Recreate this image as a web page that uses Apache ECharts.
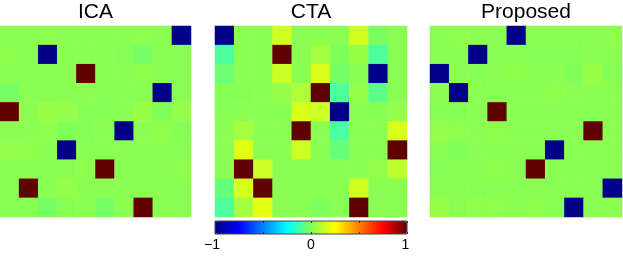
<!DOCTYPE html>
<html>
<head>
<meta charset="utf-8">
<script src="https://cdn.jsdelivr.net/npm/echarts@6/dist/echarts.min.js"></script>
<style>
html,body{margin:0;padding:0;background:#fff;}
#chart{width:623px;height:257px;}
</style>
</head>
<body>
<div id="chart"></div>
<script>
// ---- Data (rows top to bottom, columns left to right) ----
var panelTitles = ['ICA', 'CTA', 'Proposed'];
var rowCats = ['1','2','3','4','5','6','7','8','9','10'];
var colCats = ['1','2','3','4','5','6','7','8','9','10'];

var icaValues = [
  [0.02,0.02,0.03,0.02,0.02,0.02,0.02,0.03,0.02,-1],
  [0.03,0.02,-1,0.02,0.02,0.02,0.01,-0.02,0.02,0.02],
  [0.02,0.02,0.02,0.02,1,0.02,0.02,0.03,0.02,0.02],
  [-0.02,0.02,0.02,0.02,0.02,0.01,0.02,0.02,-1,0.02],
  [1,0.02,0.05,0.04,0.01,0.01,0.02,0.05,0.0,0.04],
  [0.02,0.02,0.03,0.0,0.01,0.02,-1,0.02,0.03,0.01],
  [0.04,0.03,0.02,-1,0.02,0.02,0.02,0.02,0.02,0.02],
  [0.02,0.02,0.02,0.02,0.03,1,0.02,0.02,0.02,0.03],
  [0.02,1,0.02,0.04,0.02,0.02,0.02,0.02,0.02,0.02],
  [0.01,0.01,-0.02,0.01,0.02,-0.02,0.02,1,0.02,0.02]
];

var ctaValues = [
  [-1,0.02,0.02,0.16,0.02,0.02,0.02,0.16,-0.01,0.02],
  [-0.1,0.02,0.02,1,0.02,0.07,0.0,0.05,-0.1,0.02],
  [-0.04,0.02,0.02,0.15,0.02,0.18,-0.02,0.02,-1,0.02],
  [0.01,0.01,0.02,0.04,0.09,1,-0.1,0.04,-0.07,0.02],
  [0.01,0.02,0.02,0.01,0.17,0.15,-1,0.02,0.01,0.04],
  [0.02,0.07,0.02,0.02,1,0.02,-0.11,0.02,0.02,0.17],
  [0.02,0.19,0.02,0.02,0.15,0.02,-0.05,0.02,0.02,1],
  [0.02,1,0.15,0.02,0.02,0.02,0.02,0.02,0.04,0.12],
  [-0.05,0.17,1,0.02,0.02,0.02,0.02,0.16,0.02,0.02],
  [-0.1,0.07,0.2,0.02,0.02,0.0,0.02,1,0.02,0.02]
];

var proposedValues = [
  [0.02,0.03,0.02,0.02,-1,0.02,0.02,0.02,0.02,0.03],
  [0.02,0.02,-1,0.02,0.02,0.01,0.01,0.01,0.02,0.02],
  [-1,0.02,0.01,0.02,0.03,0.02,0.02,0.0,0.05,0.01],
  [0.02,-1,0.02,0.02,0.02,0.02,0.03,0.02,0.02,0.02],
  [0.01,0.01,0.02,1,0.02,0.02,0.02,0.02,0.01,0.02],
  [0.04,0.03,0.02,0.03,0.02,0.02,0.02,0.02,1,0.02],
  [0.02,0.0,0.02,0.02,0.02,0.02,-1,0.02,0.02,0.02],
  [0.01,0.02,0.02,0.03,0.02,1,0.02,0.02,0.02,0.02],
  [0.02,0.02,0.01,0.02,0.01,0.02,0.02,0.02,0.02,-1],
  [0.05,0.02,0.03,0.03,0.02,0.03,0.01,-1,0.02,0.02]
];

var colorbarMin = -1;
var colorbarMax = 1;
var colorbarTickLabels = ['\u22121', '0', '1'];

// jet-like colormap stops
var jetColors = ['#000088','#0000ff','#0080ff','#00ffff','#80ff58','#ffff00','#ff8000','#ff0000','#600000'];

// ---- Build chart ----
function toHeat(m) {
  var out = [];
  for (var r = 0; r < m.length; r++) {
    for (var c = 0; c < m[r].length; c++) {
      out.push([c, r, m[r][c]]);
    }
  }
  return out;
}

var FONT = '"Liberation Sans", Arial, Helvetica, sans-serif';
var panels = [icaValues, ctaValues, proposedValues];
var gridBoxes = [
  {left: 0, top: 26, width: 191, height: 191},
  {left: 215, top: 26, width: 192, height: 191},
  {left: 430, top: 26, width: 192, height: 191}
];

var grids = [], xAxes = [], yAxes = [], series = [], titles = [];
for (var i = 0; i < 3; i++) {
  grids.push(Object.assign({containLabel: false, show: false}, gridBoxes[i]));
  xAxes.push({type: 'category', gridIndex: i, data: colCats, show: false});
  yAxes.push({type: 'category', gridIndex: i, data: rowCats, inverse: true, show: false});
  series.push({
    type: 'heatmap', xAxisIndex: i, yAxisIndex: i,
    data: toHeat(panels[i]),
    itemStyle: {borderWidth: 0},
    emphasis: {disabled: true},
    label: {show: false}
  });
  titles.push({
    text: panelTitles[i],
    left: gridBoxes[i].left + gridBoxes[i].width / 2,
    textAlign: 'center',
    top: 2,
    padding: 0,
    textStyle: {fontFamily: FONT, fontSize: 21, fontWeight: 'normal', color: '#000'}
  });
}

// colorbar frame grid (ticks + labels) over the visualMap bar
grids.push({left: 215, top: 221, width: 192, height: 13, show: true,
  backgroundColor: 'transparent', borderColor: '#444', borderWidth: 1, z: 10});
xAxes.push({
  type: 'value', gridIndex: 3, min: colorbarMin, max: colorbarMax, interval: 0.5,
  position: 'bottom', z: 10,
  axisLine: {show: false}, splitLine: {show: false},
  axisTick: {show: true, inside: true, length: 2, lineStyle: {color: '#333'}},
  axisLabel: {
    show: true, margin: 4, fontFamily: FONT, fontSize: 14, color: '#000',
    showMinLabel: true, showMaxLabel: true,
    formatter: function (v) {
      if (v === -1) return '{m|' + colorbarTickLabels[0] + '}';
      if (v === 0) return colorbarTickLabels[1];
      if (v === 1) return '{p|' + colorbarTickLabels[2] + '}';
      return '';
    },
    rich: {
      m: {fontFamily: FONT, fontSize: 14, color: '#000', padding: [0, 6, 0, 0]},
      p: {fontFamily: FONT, fontSize: 14, color: '#000', padding: [0, 3, 0, 0]}
    }
  }
});
xAxes.push({
  type: 'value', gridIndex: 3, min: colorbarMin, max: colorbarMax, interval: 0.5,
  position: 'top', z: 10,
  axisLine: {show: false}, splitLine: {show: false},
  axisTick: {show: true, inside: true, length: 2, lineStyle: {color: '#333'}},
  axisLabel: {show: false}
});
yAxes.push({type: 'value', gridIndex: 3, min: 0, max: 1, show: false});

var chart = echarts.init(document.getElementById('chart'), null, {renderer: 'canvas'});
chart.setOption({
  animation: false,
  backgroundColor: '#fff',
  title: titles,
  grid: grids,
  xAxis: xAxes,
  yAxis: yAxes,
  visualMap: {
    type: 'continuous',
    min: colorbarMin, max: colorbarMax,
    seriesIndex: [0, 1, 2],
    orient: 'horizontal',
    left: 215, top: 221,
    itemWidth: 13, itemHeight: 192,
    padding: 0,
    calculable: false,
    hoverLink: false,
    realtime: false,
    text: null,
    showLabel: false,
    inRange: {color: jetColors},
    z: 4
  },
  series: series
});
</script>
</body>
</html>
